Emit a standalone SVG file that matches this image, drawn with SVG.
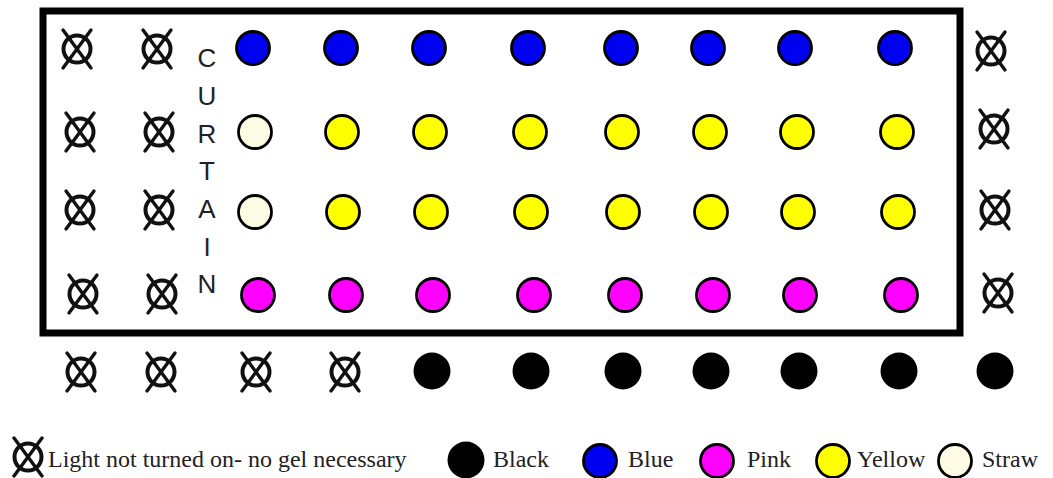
<svg xmlns="http://www.w3.org/2000/svg" xmlns:xlink="http://www.w3.org/1999/xlink" width="1053" height="478" viewBox="0 0 1053 478">
<style>
.lamp{stroke:#000;stroke-width:2.8}
.blue{fill:#0000f0}
.yellow{fill:#ffff00}
.pink{fill:#ff00ff}
.straw{fill:#fdfbe3}
.black{fill:#000}
.off circle{fill:none;stroke:#111;stroke-width:4}
.off line{stroke:#111;stroke-width:3.4;stroke-linecap:round}
.curtain{font-family:"Liberation Sans",Arial,sans-serif;font-size:26px;fill:#222;text-anchor:middle}
.legend{font-family:"Liberation Serif","Times New Roman",serif;font-size:24px;fill:#222}
</style>
<defs>
<g id="x" class="off">
<circle cx="0" cy="0" r="13.5"/>
<line x1="-14" y1="-19" x2="14" y2="19"/>
<line x1="14" y1="-19" x2="-14" y2="19"/>
</g>
</defs>
<rect width="1053" height="478" fill="#fff"/>
<g id="stage"><rect x="43" y="11" width="917" height="322" fill="none" stroke="#000" stroke-width="7"/></g>
<g id="curtain" class="curtain">
<text x="207" y="67">C</text>
<text x="207" y="105">U</text>
<text x="207" y="143">R</text>
<text x="207" y="180">T</text>
<text x="207" y="218">A</text>
<text x="207" y="256">I</text>
<text x="207" y="293">N</text>
</g>
<g id="off-lights">
<use xlink:href="#x" x="77" y="49"/><use xlink:href="#x" x="157" y="49"/>
<use xlink:href="#x" x="80" y="132"/><use xlink:href="#x" x="159" y="132"/>
<use xlink:href="#x" x="80" y="210"/><use xlink:href="#x" x="159" y="210"/>
<use xlink:href="#x" x="83" y="294"/><use xlink:href="#x" x="162" y="294"/>
<use xlink:href="#x" x="81" y="372"/><use xlink:href="#x" x="161" y="372"/>
<use xlink:href="#x" x="256" y="372"/><use xlink:href="#x" x="345" y="372"/>
<use xlink:href="#x" x="991" y="51"/><use xlink:href="#x" x="994" y="129"/>
<use xlink:href="#x" x="995" y="210"/><use xlink:href="#x" x="998" y="293"/>
</g>
<g id="row1-blue" class="lamp blue">
<circle cx="253" cy="48" r="16.5"/><circle cx="341" cy="48" r="16.5"/><circle cx="429" cy="48" r="16.5"/><circle cx="528" cy="48" r="16.5"/>
<circle cx="621" cy="48" r="16.5"/><circle cx="708" cy="48" r="16.5"/><circle cx="795" cy="48" r="16.5"/><circle cx="895" cy="48" r="16.5"/>
</g>
<g id="row2" class="lamp">
<circle class="straw" cx="255" cy="132" r="16.5"/>
<g class="yellow"><circle cx="342" cy="132" r="16.5"/><circle cx="430" cy="132" r="16.5"/><circle cx="530" cy="132" r="16.5"/><circle cx="622" cy="132" r="16.5"/><circle cx="710" cy="132" r="16.5"/><circle cx="797" cy="132" r="16.5"/><circle cx="897" cy="132" r="16.5"/></g>
</g>
<g id="row3" class="lamp">
<circle class="straw" cx="255" cy="212" r="16.5"/>
<g class="yellow"><circle cx="343" cy="212" r="16.5"/><circle cx="431" cy="212" r="16.5"/><circle cx="531" cy="212" r="16.5"/><circle cx="623" cy="212" r="16.5"/><circle cx="711" cy="212" r="16.5"/><circle cx="798" cy="212" r="16.5"/><circle cx="898" cy="212" r="16.5"/></g>
</g>
<g id="row4-pink" class="lamp pink">
<circle cx="258" cy="295" r="16.5"/><circle cx="346" cy="295" r="16.5"/><circle cx="433" cy="295" r="16.5"/><circle cx="534" cy="295" r="16.5"/>
<circle cx="625" cy="295" r="16.5"/><circle cx="713" cy="295" r="16.5"/><circle cx="800" cy="295" r="16.5"/><circle cx="901" cy="295" r="16.5"/>
</g>
<g id="row5-black" class="black">
<circle cx="432" cy="371" r="18.5"/><circle cx="531" cy="371" r="18.5"/><circle cx="623" cy="371" r="18.5"/><circle cx="711" cy="371" r="18.5"/>
<circle cx="799" cy="371" r="18.5"/><circle cx="899" cy="371" r="18.5"/><circle cx="995" cy="371" r="18.5"/>
</g>
<g id="legend">
<use xlink:href="#x" x="28" y="457"/>
<text class="legend" x="48" y="467">Light not turned on- no gel necessary</text>
<circle class="black" cx="466" cy="460" r="18.5"/>
<text class="legend" x="493" y="467">Black</text>
<circle class="lamp blue" cx="600" cy="461" r="16.5"/>
<text class="legend" x="628" y="467">Blue</text>
<circle class="lamp pink" cx="717" cy="461" r="16.5"/>
<text class="legend" x="747" y="467">Pink</text>
<circle class="lamp yellow" cx="833" cy="461" r="16.5"/>
<text class="legend" x="857" y="467">Yellow</text>
<circle class="lamp straw" cx="955" cy="461" r="16.5"/>
<text class="legend" x="982" y="467">Straw</text>
</g>
</svg>
